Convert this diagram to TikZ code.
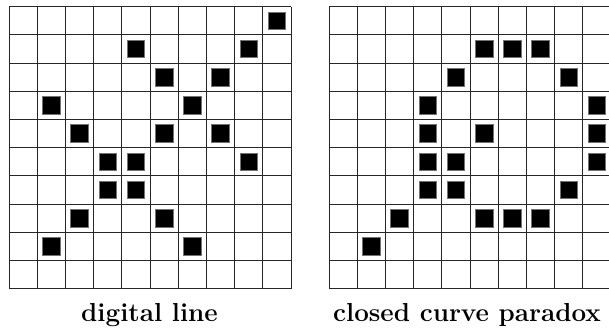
\documentclass[tikz,border=0pt]{standalone}
\begin{document}
\begin{tikzpicture}[x=1pt,y=-1pt,
  gridline/.style={line width=0.9pt, draw=black!85},
  pixel/.style={draw=black!55, line width=0.5pt, fill=black, minimum size=17.6pt, inner sep=0pt, outer sep=0pt},
  caption/.style={font=\fontsize{26}{30}\selectfont\bfseries, anchor=base, inner sep=0pt}]
\useasboundingbox (0,0) rectangle (609,329);
\clip (0,0) rectangle (609,329);
% grids
\foreach \gx in {9,329} {
  \foreach \i in {0,...,10} {
    \draw[gridline] (\gx+\i*28.2, 6.6) -- (\gx+\i*28.2, 288.6);
    \draw[gridline] (\gx, 6.6+\i*28.2) -- (\gx+282, 6.6+\i*28.2);
  }
}
% left grid pixels (col/row)
\foreach \c/\r [count=\k] in {10/1, 5/2, 9/2, 6/3, 8/3, 2/4, 7/4, 3/5, 6/5, 8/5,
  4/6, 5/6, 9/6, 4/7, 5/7, 3/8, 6/8, 2/9, 7/9}
  \node[pixel] (L\k) at (9+\c*28.2-14.1, 6.6+\r*28.2-14.1) {};
% right grid pixels (col/row)
\foreach \c/\r [count=\k] in {6/2, 7/2, 8/2, 5/3, 9/3, 4/4, 10/4, 4/5, 6/5, 10/5,
  4/6, 5/6, 10/6, 4/7, 5/7, 9/7, 3/8, 6/8, 7/8, 8/8, 2/9}
  \node[pixel] (R\k) at (329+\c*28.2-14.1, 6.6+\r*28.2-14.1) {};
% captions
\node[caption] (capL) at (149.5,321.5) {digital line};
\node[caption] (capR) at (467,321.5) {closed curve paradox};
\end{tikzpicture}
\end{document}
